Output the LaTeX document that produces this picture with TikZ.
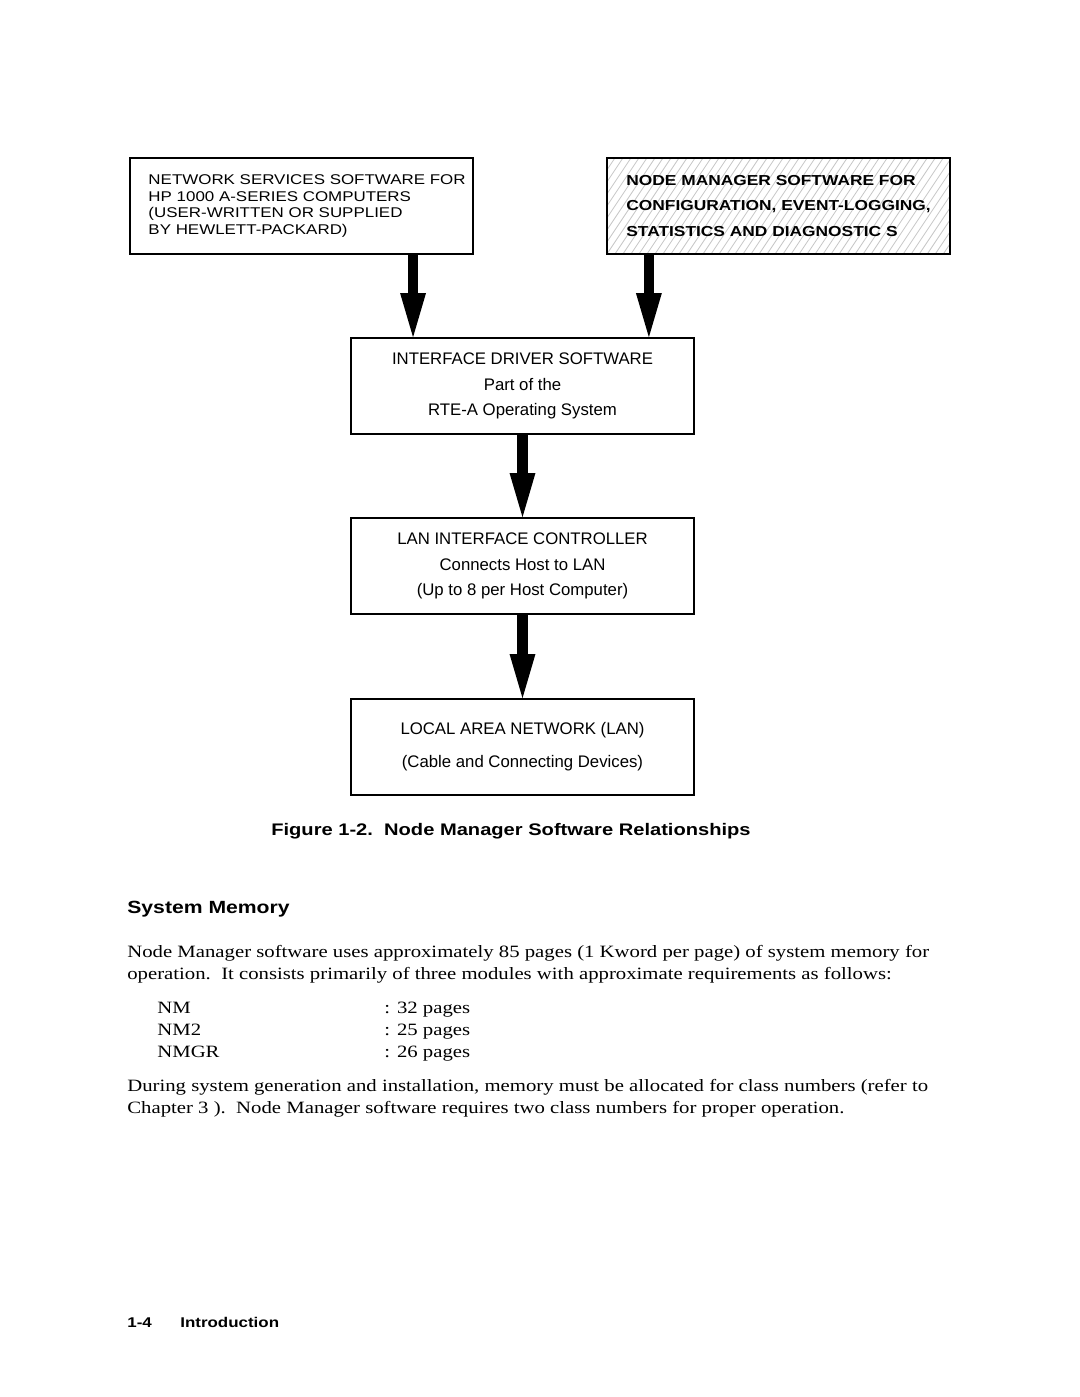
\documentclass[tikz,border=0pt]{standalone}
\usepackage{fontspec}
\usetikzlibrary{arrows.meta,positioning}
\newfontfamily\hpsans{Liberation Sans}[FakeStretch=1.2]
\newfontfamily\hpplain{Liberation Sans}
\newfontfamily\hpserif{Liberation Serif}[FakeStretch=1.2]

\tikzset{
  figbox/.style={draw, line width=1pt, minimum width=194.5pt, minimum height=54.4pt, inner sep=0pt},
  midtext/.style={align=center, font=\hpplain\fontsize{9.5}{14.5}\selectfont},
  hatchbox/.style={figbox, path picture={
      \foreach \k in {-9,...,44}
        \draw[gray!45, line width=0.45pt] ([xshift=\k*4.54pt]path picture bounding box.south west) -- ++(64,-96);
    }},
  bigarrow/.style={line width=5.7pt, -{Triangle[length=25pt,width=14.7pt,line width=0pt]}},
  bodyline/.style={anchor=base west, inner sep=0pt, align=left, font=\hpserif\fontsize{9.8}{12.2}\selectfont},
  headline/.style={anchor=base west, inner sep=0pt, font=\hpsans\bfseries\fontsize{10}{12}\selectfont},
}

\begin{document}
\begin{tikzpicture}[x=0.56693pt, y=-0.56693pt]
\path[fill=white, use as bounding box] (0,0) rectangle (1080,1397);

% Top boxes
\node[figbox] (nss) at (301.5,206) {};
\node[anchor=west, inner sep=0pt, align=left, font=\hpsans\fontsize{8}{9.45}\selectfont] (nsstxt) at ([xshift=10.8pt]nss.west)
  {NETWORK SERVICES SOFTWARE FOR\\ HP 1000 A-SERIES COMPUTERS\\ (USER-WRITTEN OR SUPPLIED\\ BY HEWLETT-PACKARD)};

\node[hatchbox] (nmsw) at (778.5,206) {};
\node[anchor=west, inner sep=0pt, align=left, font=\hpsans\bfseries\fontsize{8.2}{14.2}\selectfont] (nmswtxt) at ([xshift=11.3pt]nmsw.west)
  {NODE MANAGER SOFTWARE FOR\\ CONFIGURATION, EVENT-LOGGING,\\ STATISTICS AND DIAGNOSTIC S};

% Driver, controller and LAN
\node[figbox, midtext] (ids) at (522.5,386) {INTERFACE DRIVER SOFTWARE\\ Part of the\\ RTE-A Operating System};
\node[figbox, midtext] (lic) at (522.5,566) {LAN INTERFACE CONTROLLER\\ Connects Host to LAN\\ (Up to 8 per Host Computer)};
\node[figbox, align=center, font=\hpplain\fontsize{9.5}{18.8}\selectfont] (lan) at (522.5,747) {LOCAL AREA NETWORK (LAN)\\ (Cable and Connecting Devices)};

% Arrows
\coordinate (inL) at ([xshift=35.7pt]ids.north west);
\coordinate (inR) at ([xshift=-26.1pt]ids.north east);
\draw[bigarrow] (nss.south -| inL) -- (inL);
\draw[bigarrow] (nmsw.south -| inR) -- (inR);
\draw[bigarrow] (ids.south) -- (lic.north);
\draw[bigarrow] (lic.south) -- (lan.north);

% Caption
\node[anchor=base, inner sep=0pt, font=\hpsans\bfseries\fontsize{9.5}{12}\selectfont] (capt) at (511,835)
  {Figure 1-2.\ \ Node Manager Software Relationships};

% Text below (base anchor sits on the last line)
\node[headline] (head) at (127,913) {System Memory};
\node[bodyline] (para1) at (127,979)
  {Node Manager software uses approximately 85 pages (1 Kword per page) of system memory for\\
   operation.\ \ It consists primarily of three modules with approximate requirements as follows:};
\foreach \mname/\pg/\yy in {NM/32/1013, NM2/25/1035, NMGR/26/1057} {
  \node[bodyline] (m-\mname) at (157,\yy) {\mname};
  \node[bodyline] (p-\mname) at (384,\yy) {: \pg\ pages};
}
\node[bodyline] (para2) at (127,1113)
  {During system generation and installation, memory must be allocated for class numbers (refer to\\
   Chapter 3 ).\ \ Node Manager software requires two class numbers for proper operation.};

% Footer
\node[headline, font=\hpsans\bfseries\fontsize{8}{10}\selectfont] (pgno) at (127,1327) {1-4};
\node[headline, font=\hpsans\bfseries\fontsize{8}{10}\selectfont] (chap) at (180,1327) {Introduction};
\end{tikzpicture}
\end{document}
